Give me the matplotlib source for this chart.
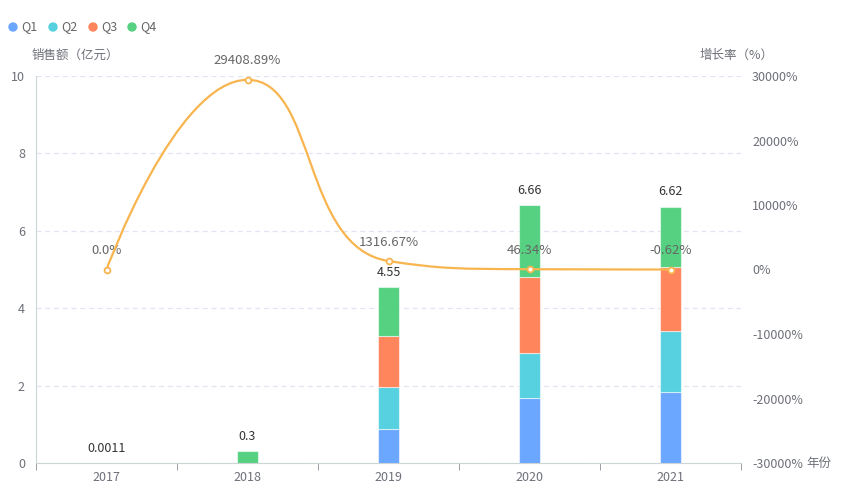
import numpy as np
import matplotlib
matplotlib.use("Agg")
import matplotlib.pyplot as plt
from matplotlib.path import Path
from matplotlib.patches import PathPatch

plt.rcParams['font.family'] = ['Noto Sans CJK SC', 'DejaVu Sans']

# Data
years = ['2017', '2018', '2019', '2020', '2021']
q1 = [0.0, 0.0, 0.87, 1.67, 1.84]
q2 = [0.0, 0.0, 1.09, 1.16, 1.57]
q3 = [0.0, 0.0, 1.31, 1.97, 1.65]
q4 = [0.0011, 0.3, 1.28, 1.86, 1.56]
totals = [0.0011, 0.3, 4.55, 6.66, 6.62]
total_labels = ['0.0011', '0.3', '4.55', '6.66', '6.62']
growth = [0.0, 29408.89, 1316.67, 46.34, -0.62]
growth_labels = ['0.0%', '29408.89%', '1316.67%', '46.34%', '-0.62%']
quarters = ['Q1', 'Q2', 'Q3', 'Q4']
colors = ['#6ba7ff', '#57d1df', '#ff855c', '#56d181']
line_color = '#f8b54f'
txt_gray = '#6e7079'

W, H = 842, 490
fig = plt.figure(figsize=(W / 100, H / 100), dpi=100)
ax = fig.add_axes([36 / W, 27 / H, (741 - 36) / W, (463 - 76) / H])
ax2 = ax.twinx()

x = np.arange(len(years))
bar_w = 0.145
bottom = np.zeros(len(years))
for vals, c in zip([q1, q2, q3, q4], colors):
    vals = np.array(vals)
    ax.bar(x, vals, bar_w, bottom=bottom, color=c, edgecolor=(1, 1, 1, 0.55),
           linewidth=0.8, zorder=3)
    bottom += vals
for xi, t, lab in zip(x, totals, total_labels):
    ax.annotate(lab, (xi, t), xytext=(0, 6), textcoords='offset points',
                ha='center', va='bottom', fontsize=9, color='#333333')

ax.set_xlim(-0.5, len(years) - 0.5)
ax.set_ylim(0, 10)
ax.set_yticks([0, 2, 4, 6, 8, 10])
ax.set_xticks(x)
ax.set_xticklabels(years)
ax.set_xticks(np.arange(-0.5, len(years), 1), minor=True)
ax.tick_params(axis='x', which='major', length=0, pad=6, labelsize=9, labelcolor=txt_gray)
ax.tick_params(axis='x', which='minor', length=5, color='#8a9099', direction='out')
ax.tick_params(axis='y', length=0, pad=8, labelsize=9, labelcolor=txt_gray)
ax.grid(axis='y', color='#e0e6f1', linestyle=(0, (4, 3)), linewidth=0.9, zorder=0)
for s in ['top', 'right']:
    ax.spines[s].set_visible(False)
ax.spines['left'].set_color('#ccd6d6')
ax.spines['bottom'].set_color('#ccd6d6')

ax2.set_ylim(-30000, 30000)
ax2.set_yticks(np.arange(-30000, 30001, 10000))
ax2.set_yticklabels([f'{v}%' for v in range(-30000, 30001, 10000)])
ax2.tick_params(axis='y', length=0, pad=8, labelsize=9, labelcolor=txt_gray)
for s in ['top', 'right', 'left', 'bottom']:
    ax2.spines[s].set_visible(False)

# smooth line like echarts (smooth=0.5 with clamping), computed in pixel space
pts = ax2.transData.transform(np.column_stack([x, growth]))
smooth = 0.5
n = len(pts)
verts = [tuple(pts[0])]
codes = [Path.MOVETO]
cp0 = pts[0].copy()
for i in range(1, n):
    px, py = pts[i - 1]
    cx, cy = pts[i]
    if i + 1 >= n:
        cp1 = np.array([cx, cy])
        nxt_cp0 = None
    else:
        nx, ny = pts[i + 1]
        vx, vy = nx - px, ny - py
        lp = np.hypot(cx - px, cy - py)
        ln = np.hypot(nx - cx, ny - cy)
        r = ln / (ln + lp)
        ncx = cx + vx * smooth * r
        ncy = cy + vy * smooth * r
        ncx = min(ncx, max(nx, cx)); ncy = min(ncy, max(ny, cy))
        ncx = max(ncx, min(nx, cx)); ncy = max(ncy, min(ny, cy))
        vx, vy = ncx - cx, ncy - cy
        c1x = cx - vx * lp / ln
        c1y = cy - vy * lp / ln
        c1x = min(c1x, max(px, cx)); c1y = min(c1y, max(py, cy))
        c1x = max(c1x, min(px, cx)); c1y = max(c1y, min(py, cy))
        vx, vy = cx - c1x, cy - c1y
        ncx = cx + vx * ln / lp
        ncy = cy + vy * ln / lp
        cp1 = np.array([c1x, c1y])
        nxt_cp0 = np.array([ncx, ncy])
    verts += [tuple(cp0), tuple(cp1), (cx, cy)]
    codes += [Path.CURVE4] * 3
    if nxt_cp0 is not None:
        cp0 = nxt_cp0
inv = ax2.transData.inverted()
verts_data = inv.transform(np.array(verts))
ax2.add_patch(PathPatch(Path(verts_data, codes), facecolor='none', edgecolor=line_color,
                        linewidth=1.6, zorder=4))
ax2.plot(x, growth, linestyle='none', marker='o', markersize=4.2, markerfacecolor='white',
         markeredgecolor=line_color, markeredgewidth=1.3, zorder=5)
for xi, g, lab in zip(x, growth, growth_labels):
    ax2.annotate(lab, (xi, g), xytext=(0, 9), textcoords='offset points',
                 ha='center', va='bottom', fontsize=9.5, color='#666666')

# axis names
fig.text(75 / W, 1 - 55 / H, '销售额（亿元）', ha='center', va='center', fontsize=9, color=txt_gray)
fig.text(737 / W, 1 - 55 / H, '增长率（%）', ha='center', va='center', fontsize=9, color=txt_gray)
fig.text(806 / W, 1 - 463 / H, '年份', ha='left', va='center', fontsize=9, color=txt_gray)

# legend
lx = [13, 53, 93, 132]
for px_, q, c in zip(lx, quarters, colors):
    fig.patches.append(matplotlib.patches.Ellipse((px_ / W, 1 - 27 / H), 8 / W, 8 / H,
                                                  transform=fig.transFigure, color=c, figure=fig))
    fig.text((px_ + 8) / W, 1 - 27 / H, q, ha='left', va='center', fontsize=9, color='#666666')

fig.savefig('out.png', dpi=100)
